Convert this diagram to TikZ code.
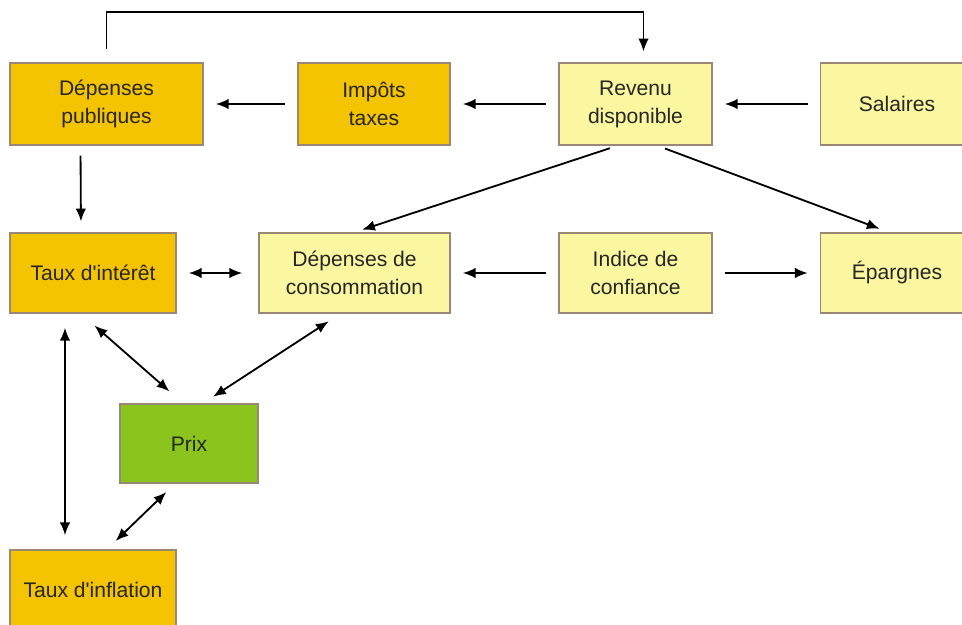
\documentclass[tikz,border=0pt]{standalone}
\usepackage{fontspec}
\setmainfont{Liberation Sans}
\usetikzlibrary{arrows.meta}

\definecolor{orangebox}{RGB}{245,196,0}
\definecolor{yellowbox}{RGB}{250,247,160}
\definecolor{greenbox}{RGB}{140,196,30}

\begin{document}
\begin{tikzpicture}[
  x=0.025cm, y=-0.025cm,
  box/.style={draw=black!55!brown!60, line width=1pt, minimum height=2.05cm,
    align=center, font=\fontsize{15}{20}\selectfont, text=black!85, inner sep=0pt},
  pub/.style={box, fill=orangebox},
  priv/.style={box, fill=yellowbox},
  arr/.style={-{Latex[length=3.2mm,width=2.6mm]}, line width=1.3pt, shorten <=0.3cm, shorten >=0.3cm},
  dbl/.style={{Latex[length=3.2mm,width=2.6mm]}-{Latex[length=3.2mm,width=2.6mm]}, line width=1.3pt, shorten <=0.35cm, shorten >=0.35cm},
]
\clip (0,0) rectangle (962,625);
\fill[white] (0,0) rectangle (962,625);

% === TOP ROW ===
\node[pub, minimum width=4.825cm] (dep) at (106.5,104) {Dépenses\\publiques};
\node[pub, minimum width=3.8cm] (imp) at (374,104) {Impôts\\taxes};
\node[priv, minimum width=3.825cm] (rev) at (635.5,104) {Revenu\\disponible};
\node[priv, minimum width=3.825cm] (sal) at (897,104) {Salaires};

% === MIDDLE ROW ===
\node[pub, minimum width=4.15cm, minimum height=2cm] (taux) at (93,273) {Taux d\textquotesingle intérêt};
\node[priv, minimum width=4.775cm, minimum height=2cm] (conso) at (354.5,273) {Dépenses de\\consommation};
\node[priv, minimum width=3.825cm, minimum height=2cm] (conf) at (635.5,273) {Indice de\\confiance};
\node[priv, minimum width=3.825cm, minimum height=2cm] (epar) at (897,273) {Épargnes};

% === BOTTOM ===
\node[box, fill=greenbox, minimum width=3.45cm, minimum height=1.975cm] (prix) at (189,443.5) {Prix};
\node[pub, minimum width=4.15cm, minimum height=2cm] (infl) at (93,590) {Taux d\textquotesingle inflation};

\coordinate (top) at (0,12);

% flows
\draw[arr, shorten <=0.32cm, shorten >=0.27cm] (dep.north) -- (dep.north |- top) -| ([xshift=0.2cm]rev.north);
\draw[arr] (imp.west) -- (dep.east);
\draw[arr] (rev.west) -- (imp.east);
\draw[arr] (sal.west) -- (rev.east);
\draw[arr, shorten <=0.25cm, shorten >=0.27cm] ([xshift=-0.65cm]dep.south) -- ([xshift=-0.3cm]taux.north);
\draw[arr, shorten <=0.2cm, shorten >=0.2cm] ([xshift=-0.45cm]rev.south) -- (conso.north);
\draw[arr, shorten <=0.2cm, shorten >=0.25cm] ([xshift=0.55cm]rev.south) -- ([xshift=-0.2cm]epar.north);
\draw[arr] (conf.west) -- (conso.east);
\draw[arr] (conf.east) -- (epar.west);

% feedbacks
\draw[dbl, shorten <=0.3cm, shorten >=0.4cm] (taux.east) -- (conso.west);
\draw[dbl, shorten <=0.45cm, shorten >=0.45cm] ([xshift=-0.3cm]taux.south) -- ([xshift=-0.15cm]prix.north);
\draw[dbl, shorten <=0.35cm, shorten >=0.3cm] ([xshift=-0.35cm]conso.south) -- ([xshift=0.35cm]prix.north);
\draw[dbl] ([xshift=-0.7cm]taux.south) -- ([xshift=-0.7cm]infl.north);
\draw[dbl, shorten <=0.3cm, shorten >=0.3cm] ([xshift=-0.35cm]prix.south) -- ([xshift=0.35cm]infl.north);
\end{tikzpicture}
\end{document}
